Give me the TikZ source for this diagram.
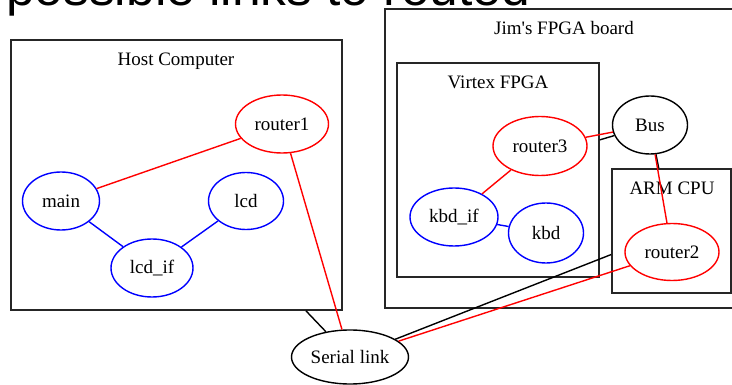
\documentclass[tikz,border=0pt]{standalone}
\usepackage{fontspec}
\setmainfont{Liberation Serif}[Ligatures=TeXOff]
\newfontfamily\headfont{Liberation Sans}
\usetikzlibrary{shapes.geometric}
\tikzset{
  lbl/.style={font=\fontsize{19}{21}\selectfont},
  proc/.style={ellipse, draw, line width=1.4pt, inner sep=0pt, lbl},
  rproc/.style={proc, draw=red},
  bproc/.style={proc, draw=blue},
  kproc/.style={proc, draw=black},
  cluster/.style={rectangle, draw=black!85, line width=1.7pt, inner sep=0pt},
  rlink/.style={draw=red, line width=1.4pt},
  blink/.style={draw=blue, line width=1.4pt},
  klink/.style={draw=black, line width=1.4pt},
}
\begin{document}
\begin{tikzpicture}[x=1pt, y=-1pt]
  \useasboundingbox (0,0) rectangle (732,385);
  \clip (0,0) rectangle (732,385);

  % heading, only partly inside the frame
  \node[anchor=base west, inner sep=0pt, font=\headfont\fontsize{51.5}{54}\selectfont]
    (head) at (6,5.5) {possible links to routed};

  % clusters
  \node[cluster, minimum width=331pt, minimum height=270pt] (host) at (176.5,175) {};
  \node[cluster, minimum width=362pt, minimum height=299pt] (board) at (566,158.5) {};
  \node[cluster, minimum width=202pt, minimum height=214pt] (virtex) at (498,170) {};
  \node[cluster, minimum width=119pt, minimum height=124pt] (arm) at (671.5,231) {};

  \node[lbl, anchor=base] (hostlbl) at (176,66) {Host Computer};
  \node[lbl, anchor=base] (boardlbl) at (564,35) {Jim's FPGA board};
  \node[lbl, anchor=base] (virtexlbl) at (498,89) {Virtex FPGA};
  \node[lbl, anchor=base] (armlbl) at (672,195) {ARM CPU};

  % processes
  \node[rproc, minimum width=93pt, minimum height=58pt] (router1) at (282,124) {router1};
  \node[bproc, minimum width=77pt, minimum height=58pt] (main) at (61,201) {main};
  \node[bproc, minimum width=75pt, minimum height=57pt] (lcd) at (246,201) {lcd};
  \node[bproc, minimum width=82pt, minimum height=58pt] (lcdif) at (152,268) {lcd\_if};
  \node[rproc, minimum width=94pt, minimum height=59pt] (router3) at (540,146) {router3};
  \node[kproc, minimum width=75pt, minimum height=58pt] (bus) at (650,125) {Bus};
  \node[bproc, minimum width=88pt, minimum height=58pt] (kbdif) at (454,217) {kbd\_if};
  \node[bproc, minimum width=75pt, minimum height=60pt] (kbd) at (546,233) {kbd};
  \node[rproc, minimum width=94pt, minimum height=57pt] (router2) at (672,252) {router2};
  \node[kproc, minimum width=117pt, minimum height=54pt] (serial) at (350,357) {Serial link};

  % links inside the host
  \draw[rlink] (router1) -- (main);
  \draw[blink] (main) -- (lcdif);
  \draw[blink] (lcd) -- (lcdif);

  % links inside the board
  \draw[rlink] (router3) -- (kbdif);
  \draw[blink] (kbdif) -- (kbd);
  \draw[klink] (bus) -- (virtex);
  \draw[rlink] (router3) -- (bus);
  \draw[klink] (bus) -- (arm);
  \draw[rlink] (bus) -- (router2);

  % serial connections
  \draw[klink] (serial) -- (host);
  \draw[rlink] (router1) -- (serial);
  \draw[klink] (serial) -- (arm);
  \draw[rlink] (serial) -- (router2);
\end{tikzpicture}
\end{document}
